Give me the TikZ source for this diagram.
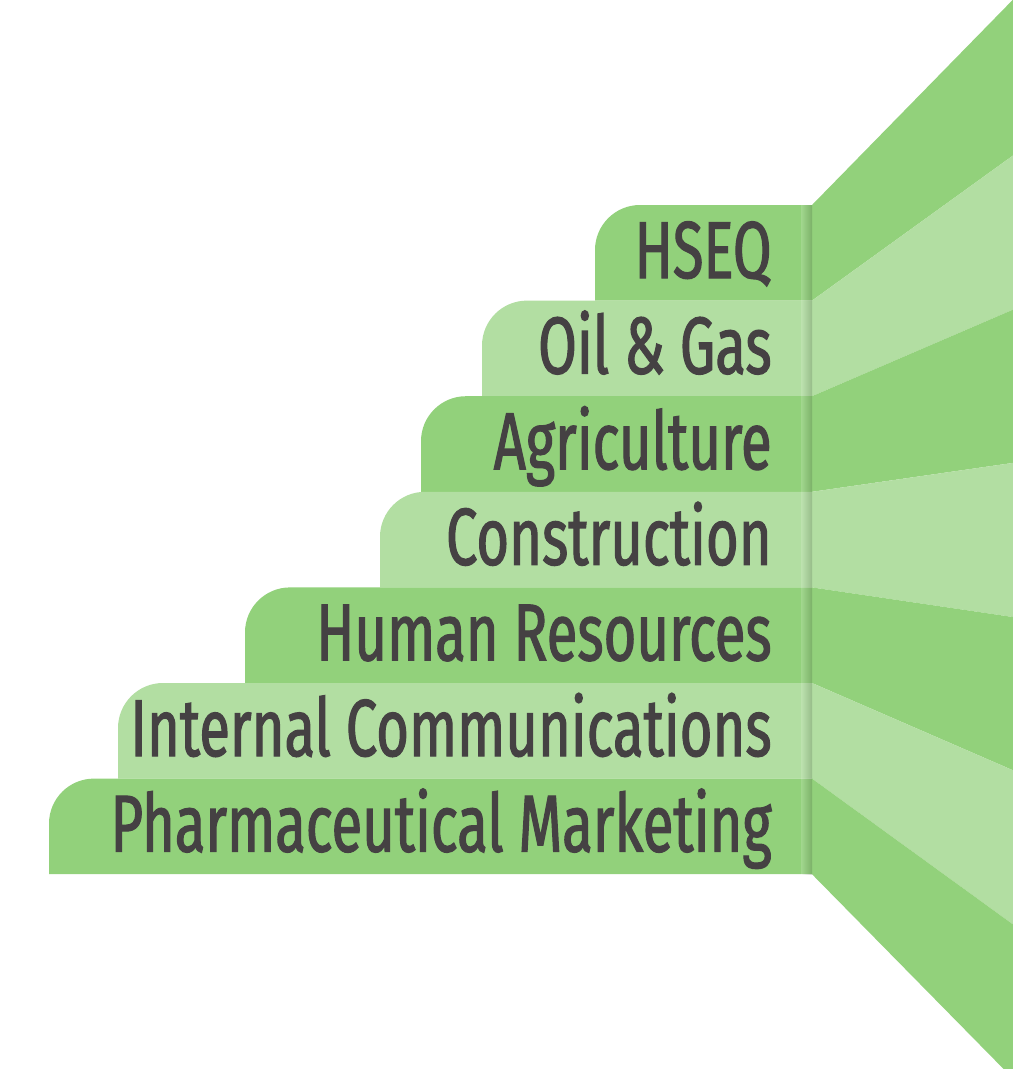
\documentclass[tikz,border=0pt]{standalone}
\usepackage{fontspec}
\setmainfont{Fira Sans}[FakeStretch=0.695, FakeBold=1.4]
\usepackage{xcolor}
\usepackage{tikz}
\usetikzlibrary{positioning,calc}
\definecolor{stepdark}{RGB}{146, 209, 123}
\definecolor{steplight}{RGB}{178, 222, 162}
\definecolor{labeltext}{RGB}{69, 65, 67}

\begin{document}
\begin{tikzpicture}[x=0.02cm, y=-0.02cm,
    steplabel/.style={text=labeltext, anchor=base east, inner sep=0pt,
        font=\fontsize{46}{50}\selectfont}]
    \useasboundingbox (0,0) rectangle (1013,1069);
    \clip (0,0) rectangle (1013,1069);
    % fan of rays on the right
    \fill[stepdark]  (812,205) -- (1040,-28) -- (1040,136) -- (812,300.6) -- cycle;
    \fill[steplight] (812,300.6) -- (1040,136) -- (1040,298) -- (812,396.2) -- cycle;
    \fill[stepdark]  (812,396.2) -- (1040,298) -- (1040,459) -- (812,491.8) -- cycle;
    \fill[steplight] (812,491.8) -- (1040,459) -- (1040,621) -- (812,587.4) -- cycle;
    \fill[stepdark]  (812,587.4) -- (1040,621) -- (1040,782) -- (812,683) -- cycle;
    \fill[steplight] (812,683) -- (1040,782) -- (1040,944) -- (812,778.6) -- cycle;
    \fill[stepdark]  (812,778.6) -- (1040,944) -- (1040,1106) -- (812,874.2) -- cycle;
    % steps
    \fill[stepdark]  (595,300.6) [rounded corners=0.9cm] -- (595,205) [sharp corners] -- (812,205) -- (812,300.6) -- cycle;
    \fill[steplight] (482,396.2) [rounded corners=0.9cm] -- (482,300.6) [sharp corners] -- (812,300.6) -- (812,396.2) -- cycle;
    \fill[stepdark]  (421,491.8) [rounded corners=0.9cm] -- (421,396.2) [sharp corners] -- (812,396.2) -- (812,491.8) -- cycle;
    \fill[steplight] (380,587.4) [rounded corners=0.9cm] -- (380,491.8) [sharp corners] -- (812,491.8) -- (812,587.4) -- cycle;
    \fill[stepdark]  (245,683) [rounded corners=0.9cm] -- (245,587.4) [sharp corners] -- (812,587.4) -- (812,683) -- cycle;
    \fill[steplight] (118,778.6) [rounded corners=0.9cm] -- (118,683) [sharp corners] -- (812,683) -- (812,778.6) -- cycle;
    \fill[stepdark]  (49,874.2) [rounded corners=0.9cm] -- (49,778.6) [sharp corners] -- (812,778.6) -- (812,874.2) -- cycle;
    % shadow at the fold
    \shade[left color=white, right color=black, opacity=0.15] (801,205) rectangle (812,874.2);
    % labels
    \node[steplabel] (hseq) at (772,278) {HSEQ};
    \node[steplabel] (oilgas) at (772,373.6) {Oil \& Gas};
    \node[steplabel] (agri) at (772,469.2) {Agriculture};
    \node[steplabel] (constr) at (772,564.8) {Construction};
    \node[steplabel] (human) at (772,660.4) {Human Resources};
    \node[steplabel] (internal) at (772,756) {Internal Communications};
    \node[steplabel] (pharma) at (772,851.6) {Pharmaceutical Marketing};
\end{tikzpicture}
\end{document}
